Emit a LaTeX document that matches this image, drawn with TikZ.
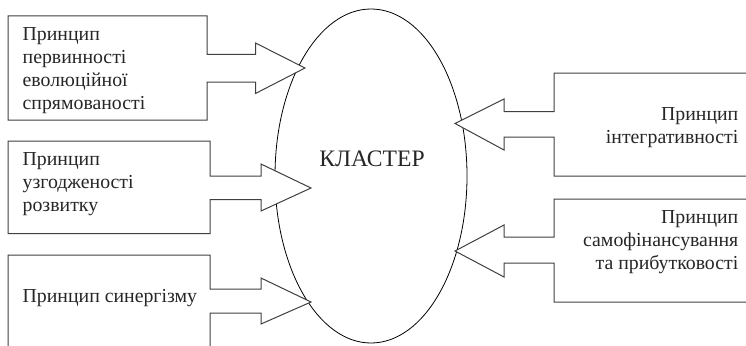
\documentclass[tikz,border=0pt]{standalone}
\usepackage{fontspec}
\setmainfont{Liberation Serif}
\begin{document}
\begin{tikzpicture}[x=1pt,y=-1pt,
  callbox/.style={draw=black!75, line width=1pt, fill=white, line join=miter},
  ring/.style={draw=black, line width=0.8pt},
  boxtext/.style={inner sep=0pt, font=\fontsize{19.8}{23}\selectfont, text=black!85},
  bigtext/.style={inner sep=0pt, font=\fontsize{23.6}{27}\selectfont, text=black!85}]
\clip (0,0) rectangle (746,345);
\fill[white] (0,0) rectangle (746,345);
% cluster ellipse
\draw[ring] (371,176) ellipse [x radius=96pt, y radius=167pt];
\node[bigtext, anchor=base] (cl) at (372,166.5) {КЛАСТЕР};
% left callouts
\draw[callbox] (8,16) -- (207,16) -- (207,54.5) -- (255.5,54.5) -- (255.5,43) -- (305,68)
  -- (255.5,93.5) -- (255.5,82) -- (207,82) -- (207,120) -- (8,120) -- cycle;
\draw[callbox] (8,141) -- (210,141) -- (210,176) -- (261,176) -- (261,164) -- (311,188)
  -- (261,211) -- (261,199.5) -- (210,199.5) -- (210,233.5) -- (8,233.5) -- cycle;
\draw[callbox] (8,255) -- (210,255) -- (210,289) -- (261,289) -- (261,278) -- (311,302)
  -- (261,324) -- (261,313) -- (210,313) -- (210,360) -- (8,360) -- cycle;
% right callouts
\draw[callbox] (760,73) -- (554,73) -- (554,111.5) -- (504,111.5) -- (504,99) -- (455,123.5)
  -- (504,150) -- (504,137) -- (554,137) -- (554,176) -- (760,176) -- cycle;
\draw[callbox] (760,199) -- (554,199) -- (554,237) -- (504,237) -- (504,225) -- (455,251)
  -- (504,277) -- (504,263) -- (554,263) -- (554,302) -- (760,302) -- cycle;
% texts
\node[boxtext, anchor=north west, align=left] (t1) at (22.5,27.6)
  {Принцип\\первинності\\еволюційної\\спрямованості};
\node[boxtext, anchor=north west, align=left] (t2) at (22.5,152.4)
  {Принцип\\узгодженості\\розвитку};
\node[boxtext, anchor=base west] (t3) at (22.5,302) {Принцип синергізму};
\node[boxtext, anchor=north east, align=right] (t4) at (738.5,106.9)
  {Принцип\\інтегративності};
\node[boxtext, anchor=north east, align=right] (t5) at (738.5,209.9)
  {Принцип\\самофінансування\\та прибутковості};
\end{tikzpicture}
\end{document}
